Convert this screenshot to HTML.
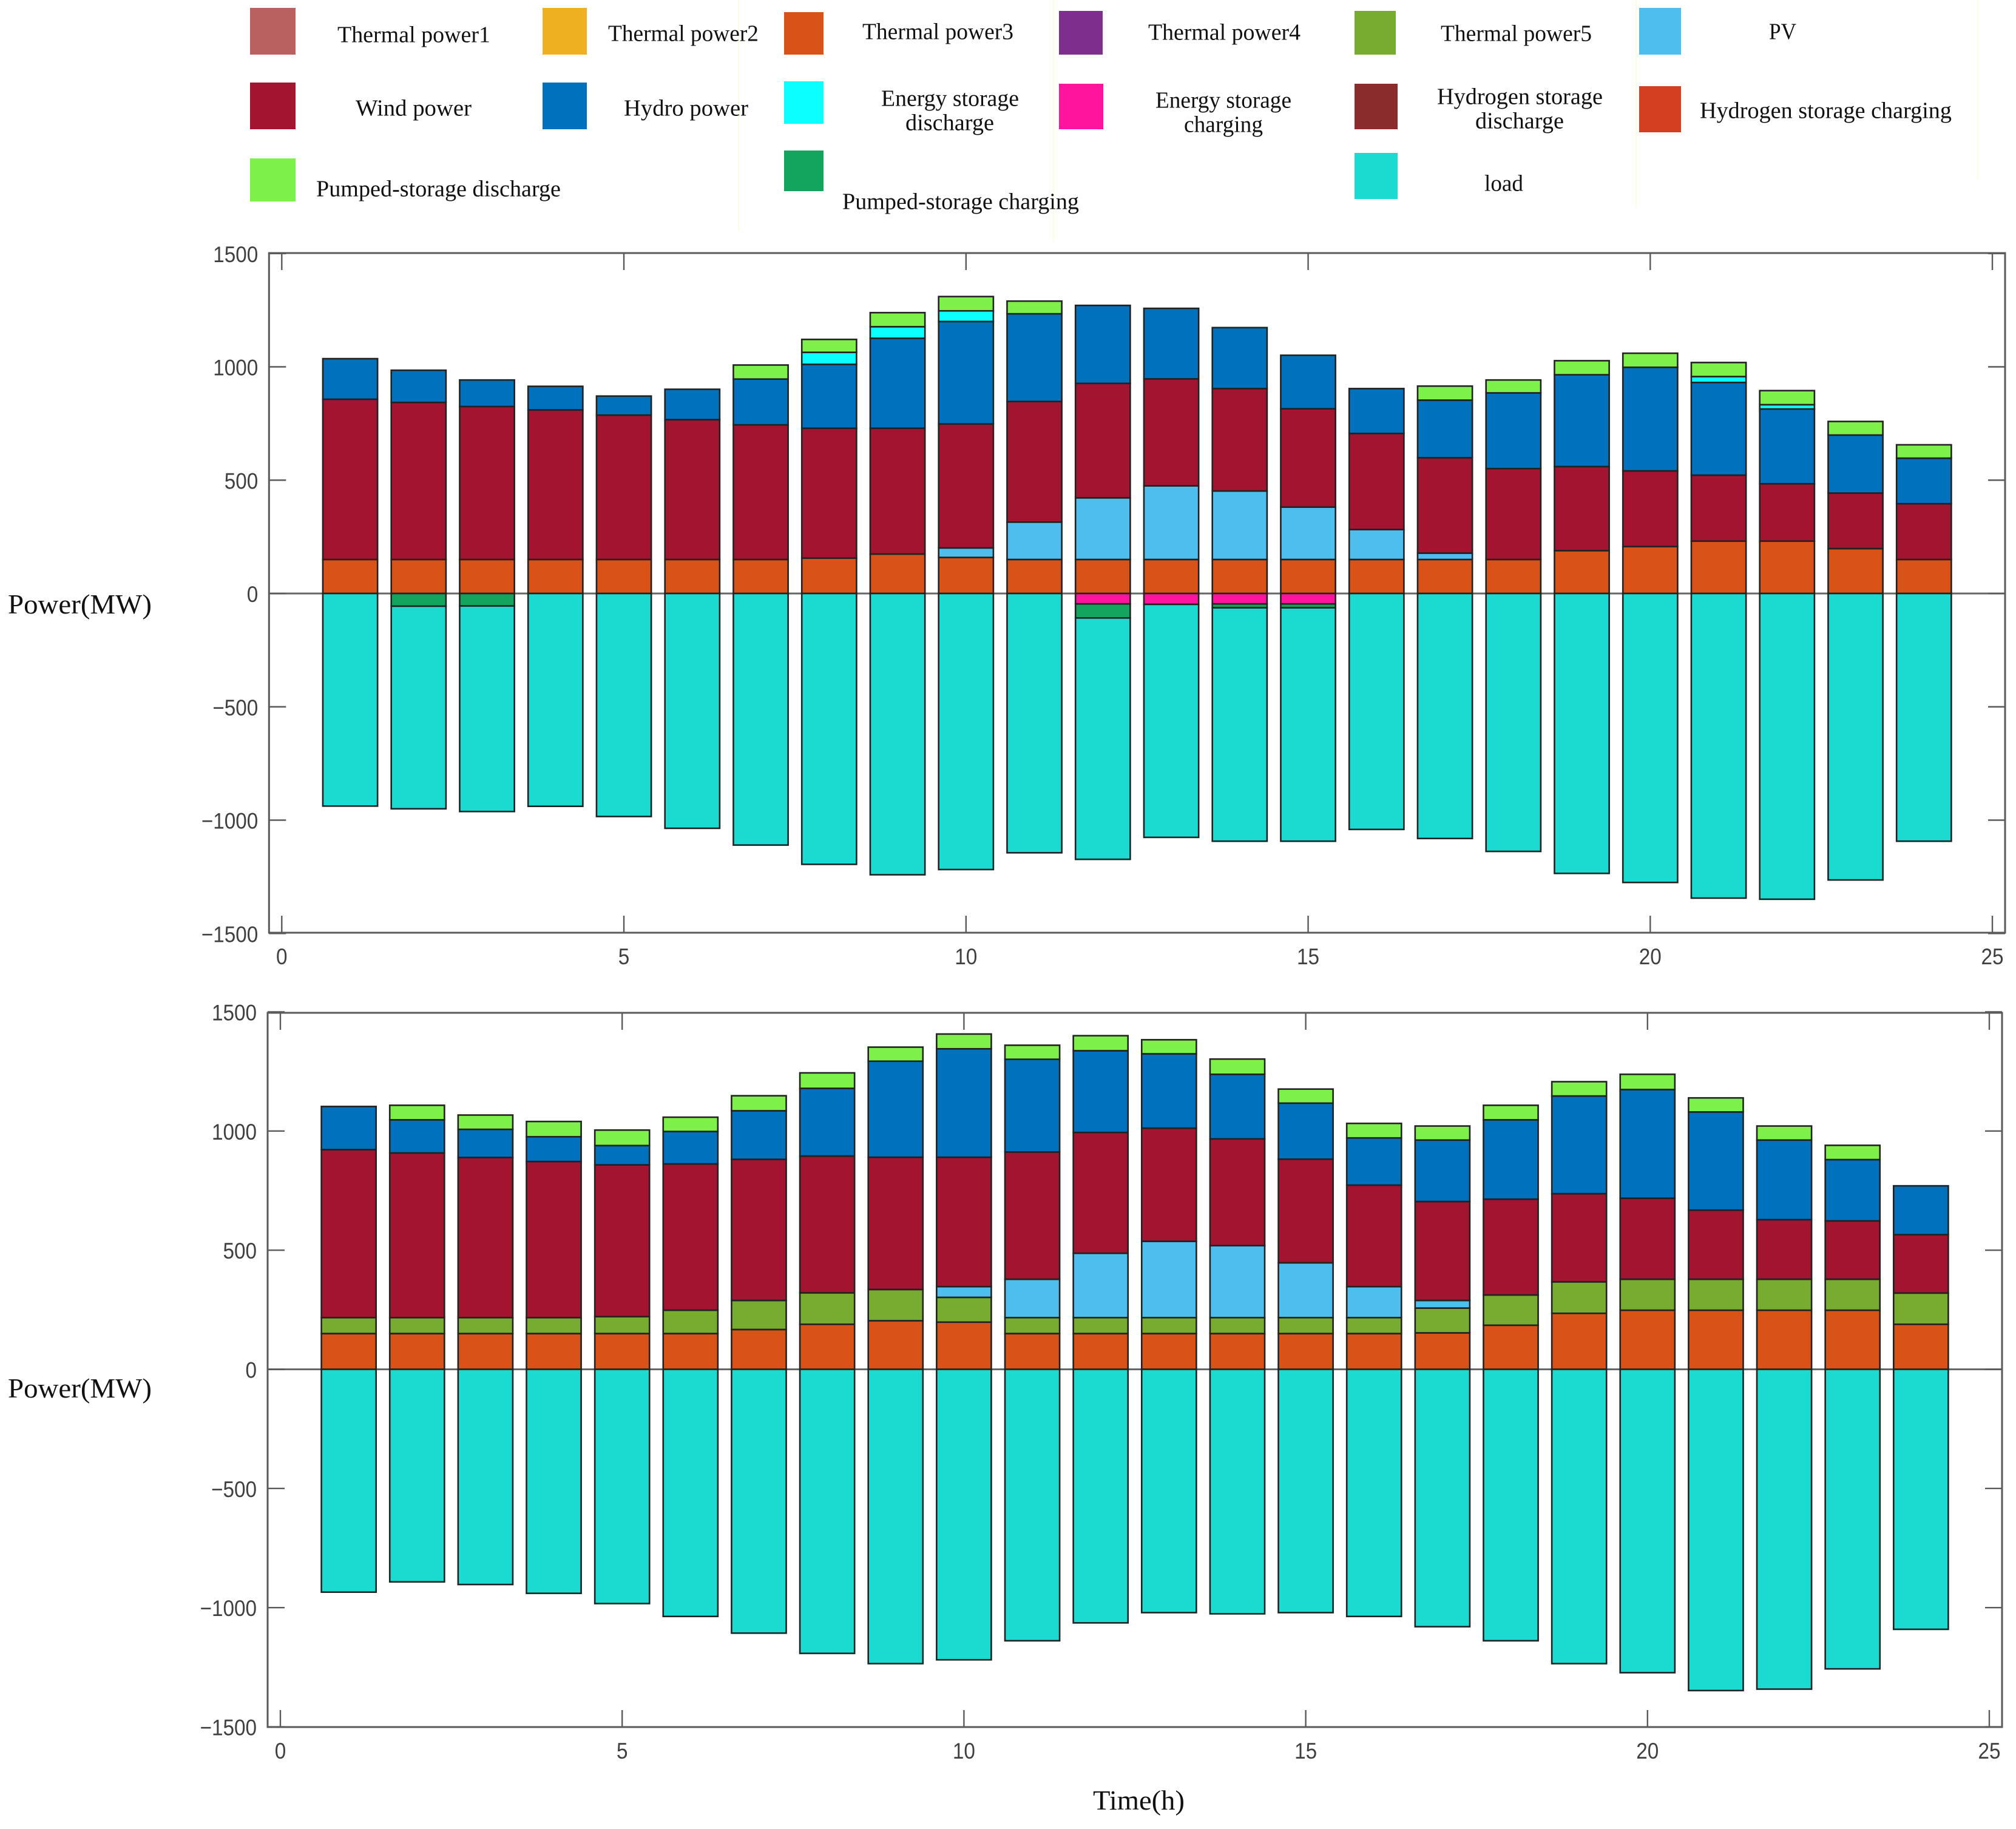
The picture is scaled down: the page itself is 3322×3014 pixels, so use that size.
<!DOCTYPE html>
<html lang="en">
<head>
<meta charset="utf-8">
<title>Power balance stacked bars</title>
<style>
html,body{margin:0;padding:0;background:#fff;width:3322px;height:3014px;overflow:hidden}
svg{display:block}
.lg{font-family:"Liberation Serif",serif;font-size:38px;fill:#111;transform:translateY(1.5px)}
.ax{font-family:"Liberation Serif",serif;font-size:46px;fill:#111}
.tk{font-family:"Liberation Sans",sans-serif;font-size:37px;fill:#404040}
</style>
</head>
<body>
<svg id="figure" xmlns="http://www.w3.org/2000/svg" width="3322" height="3014" viewBox="0 0 3322 3014">
<rect x="0" y="0" width="3322" height="3014" fill="#ffffff"/>
<g stroke="#fdfde6" stroke-width="2">
<line x1="1217" y1="0" x2="1217" y2="382"/><line x1="1736" y1="0" x2="1736" y2="396"/><line x1="2696" y1="0" x2="2696" y2="340"/><line x1="3259" y1="0" x2="3259" y2="295"/>
</g>
<g>
<rect x="412" y="13" width="75" height="77" fill="#B96060"/>
<text class="lg" x="556" y="68" textLength="252" lengthAdjust="spacingAndGlyphs">Thermal power1</text>
<rect x="894" y="13" width="73" height="77" fill="#EEB020"/>
<text class="lg" x="1002" y="66" textLength="248" lengthAdjust="spacingAndGlyphs">Thermal power2</text>
<rect x="1292" y="20" width="65" height="70" fill="#D95319"/>
<text class="lg" x="1421" y="63" textLength="249" lengthAdjust="spacingAndGlyphs">Thermal power3</text>
<rect x="1745" y="18" width="72" height="72" fill="#7E2F8E"/>
<text class="lg" x="1892" y="64" textLength="251" lengthAdjust="spacingAndGlyphs">Thermal power4</text>
<rect x="2232" y="18" width="68" height="72" fill="#77AC30"/>
<text class="lg" x="2374" y="66" textLength="249" lengthAdjust="spacingAndGlyphs">Thermal power5</text>
<rect x="2701" y="13" width="69" height="77" fill="#4DBEEE"/>
<text class="lg" x="2915" y="63" textLength="45" lengthAdjust="spacingAndGlyphs">PV</text>
<rect x="412" y="136" width="75" height="77" fill="#A2142F"/>
<text class="lg" x="586" y="189" textLength="191" lengthAdjust="spacingAndGlyphs">Wind power</text>
<rect x="894" y="136" width="73" height="77" fill="#0072BD"/>
<text class="lg" x="1028" y="189" textLength="205" lengthAdjust="spacingAndGlyphs">Hydro power</text>
<rect x="1292" y="134" width="65" height="70" fill="#0CFFFF"/>
<text class="lg" x="1452" y="173" textLength="227" lengthAdjust="spacingAndGlyphs">Energy storage</text>
<text class="lg" x="1492" y="213" textLength="146" lengthAdjust="spacingAndGlyphs">discharge</text>
<rect x="1745" y="138" width="73" height="75" fill="#FF149E"/>
<text class="lg" x="1904" y="176" textLength="224" lengthAdjust="spacingAndGlyphs">Energy storage</text>
<text class="lg" x="1951" y="216" textLength="130" lengthAdjust="spacingAndGlyphs">charging</text>
<rect x="2232" y="138" width="71" height="75" fill="#8A2C2C"/>
<text class="lg" x="2368" y="170" textLength="273" lengthAdjust="spacingAndGlyphs">Hydrogen storage</text>
<text class="lg" x="2431" y="210" textLength="146" lengthAdjust="spacingAndGlyphs">discharge</text>
<rect x="2701" y="142" width="69" height="76" fill="#D33F20"/>
<text class="lg" x="2801" y="193" textLength="415" lengthAdjust="spacingAndGlyphs">Hydrogen storage charging</text>
<rect x="412" y="261" width="75" height="71" fill="#7EF04A"/>
<text class="lg" x="521" y="322" textLength="403" lengthAdjust="spacingAndGlyphs">Pumped-storage discharge</text>
<rect x="1292" y="248" width="65" height="67" fill="#13A45E"/>
<text class="lg" x="1388" y="343" textLength="390" lengthAdjust="spacingAndGlyphs">Pumped-storage charging</text>
<rect x="2232" y="252" width="71" height="76" fill="#1BDBD0"/>
<text class="lg" x="2446" y="313" textLength="64" lengthAdjust="spacingAndGlyphs">load</text>
</g>
<text class="ax" x="13" y="1011" textLength="237" lengthAdjust="spacingAndGlyphs">Power(MW)</text>
<text class="ax" x="13" y="2303" textLength="237" lengthAdjust="spacingAndGlyphs">Power(MW)</text>
<text class="ax" x="1801" y="2982" textLength="151" lengthAdjust="spacingAndGlyphs">Time(h)</text>
<g id="plots"></g>
</svg>
<script>
const hours = [1,2,3,4,5,6,7,8,9,10,11,12,13,14,15,16,17,18,19,20,21,22,23,24];
const yTickValues = [-1500,-1000,-500,0,500,1000,1500];
const xTickValues = [0,5,10,15,20,25];

/* Top chart, MW per hour */
const thermal3A = [150,150,150,150,150,150,150,156,174,159,150,150,150,150,150,150,150,150,189,207,231,231,198,150];
const thermal5A = [0,0,0,0,0,0,0,0,0,0,0,0,0,0,0,0,0,0,0,0,0,0,0,0];
const pvA       = [0,0,0,0,0,0,0,0,0,42,165,272,325,302,231,132,28,0,0,0,0,0,0,0];
const windA     = [707,693,675,660,637,617,594,573,555,547,532,505,472,452,434,424,421,401,371,334,291,253,245,246];
const hydroA    = [179,142,117,104,84,134,202,282,397,452,387,344,311,269,236,198,254,334,405,457,409,330,256,201];
const esDisA    = [0,0,0,0,0,0,0,53,51,47,0,0,0,0,0,0,0,0,0,0,26,19,0,0];
const pumpDisA  = [0,0,0,0,0,0,62,57,62,63,56,0,0,0,0,0,62,57,62,62,62,62,60,59];
const esChgA    = [0,0,0,0,0,0,0,0,0,0,0,46,48,46,46,0,0,0,0,0,0,0,0,0];
const pumpChgA  = [0,56,55,0,0,0,0,0,0,0,0,62,0,17,17,0,0,0,0,0,0,0,0,0];
const loadA     = [938,894,907,939,984,1036,1110,1195,1241,1218,1144,1065,1028,1030,1030,1041,1081,1138,1235,1275,1344,1349,1264,1093];

/* Bottom chart, MW per hour */
const thermal3B = [150,150,150,150,150,150,167,189,204,198,150,150,150,150,150,150,153,185,235,248,248,248,248,189];
const thermal5B = [67,67,67,67,71,98,122,132,131,104,67,67,67,67,67,67,104,127,132,130,130,130,130,131];
const pvB       = [0,0,0,0,0,0,0,0,0,45,161,270,320,302,230,130,32,0,0,0,0,0,0,0];
const windB     = [705,691,672,655,637,614,592,574,555,543,534,507,475,448,435,426,415,402,370,340,290,250,245,245];
const hydroB    = [181,139,118,104,81,136,204,284,403,455,389,343,312,271,235,198,258,333,410,456,412,334,257,205];
const pumpDisB  = [0,61,60,64,65,60,63,65,59,62,59,63,59,64,59,61,59,61,60,64,59,59,60,0];
const loadB     = [935,892,903,940,983,1037,1107,1192,1235,1219,1139,1064,1021,1026,1021,1037,1080,1139,1235,1273,1348,1342,1257,1091];

const seriesColor = {
  'thermal-power3':'#D95319','thermal-power5':'#77AC30','pv':'#4DBEEE','wind-power':'#A2142F',
  'hydro-power':'#0072BD','energy-storage-discharge':'#0CFFFF','pumped-storage-discharge':'#7EF04A',
  'energy-storage-charging':'#FF149E','pumped-storage-charging':'#13A45E','load':'#1BDBD0'
};

const NS = 'http://www.w3.org/2000/svg';
const plots = document.getElementById('plots');

function shape(parent, tag, attrs) {
  const el = document.createElementNS(NS, tag);
  for (const k in attrs) el.setAttribute(k, attrs[k]);
  parent.appendChild(el);
  return el;
}

function drawChart(prefix, box, upStack, downStack) {
  const xPos = h => box.x0 + h * box.pxPerHour;
  const yPos = v => box.y0 - v * box.pxPerMW;
  const barHalf = 0.4;

  const g = shape(plots, 'g', {});
  
  

  const zero = shape(g, 'line', {x1:box.left, x2:box.right, y1:yPos(0), y2:yPos(0), stroke:'#666', 'stroke-width':3});
  
  

  function segments(stack, sign) {
    hours.forEach((h, i) => {
      let base = 0;
      stack.forEach(([key, values]) => {
        const v = values[i];
        if (!v) return;
        const top = base + v;
        const yA = yPos(sign * base), yB = yPos(sign * top);
        const r = shape(g, 'rect', {
          x: xPos(h - barHalf), width: xPos(h + barHalf) - xPos(h - barHalf),
          y: Math.min(yA, yB), height: Math.abs(yA - yB),
          fill: seriesColor[key], stroke: '#222', 'stroke-width': 2.6
        });
        
        
        base = top;
      });
    });
  }
  segments(upStack, 1);
  segments(downStack, -1);

  const frame = shape(g, 'rect', {x:box.left, y:box.top, width:box.right-box.left, height:box.bottom-box.top, fill:'none', stroke:'#5a5a5a', 'stroke-width':3});
  
  

  const tickLen = 28;
  xTickValues.forEach(t => {
    const x = xPos(t);
    const a = shape(g, 'line', {x1:x, x2:x, y1:box.top, y2:box.top+tickLen, stroke:'#5a5a5a', 'stroke-width':2.4});
    
    
    const b = shape(g, 'line', {x1:x, x2:x, y1:box.bottom, y2:box.bottom-tickLen, stroke:'#5a5a5a', 'stroke-width':2.4});
    
    
    const lab = shape(g, 'text', {class:'tk', 'text-anchor':'middle', transform:'translate(' + x + ',' + (box.bottom + 52) + ') scale(0.9,1)'});
    lab.textContent = String(t);
    
    
  });
  yTickValues.forEach(t => {
    const y = yPos(t);
    const a = shape(g, 'line', {x1:box.left, x2:box.left+tickLen, y1:y, y2:y, stroke:'#5a5a5a', 'stroke-width':2.4});
    
    
    const b = shape(g, 'line', {x1:box.right, x2:box.right-tickLen, y1:y, y2:y, stroke:'#5a5a5a', 'stroke-width':2.4});
    
    
    const lab = shape(g, 'text', {class:'tk', 'text-anchor':'end', transform:'translate(' + (box.left - 18) + ',' + (y + 14) + ') scale(0.9,1)'});
    lab.textContent = String(t).replace('-', '\u2212');
    
    
  });
}

drawChart('top', {x0:464.3, pxPerHour:112.75, y0:978, pxPerMW:0.3735, left:443.3, right:3304, top:417, bottom:1537},
  [['thermal-power3',thermal3A],['thermal-power5',thermal5A],['pv',pvA],['wind-power',windA],['hydro-power',hydroA],['energy-storage-discharge',esDisA],['pumped-storage-discharge',pumpDisA]],
  [['energy-storage-charging',esChgA],['pumped-storage-charging',pumpChgA],['load',loadA]]);

drawChart('bottom', {x0:462, pxPerHour:112.64, y0:2256.5, pxPerMW:0.3927, left:441, right:3299, top:1669, bottom:2846},
  [['thermal-power3',thermal3B],['thermal-power5',thermal5B],['pv',pvB],['wind-power',windB],['hydro-power',hydroB],['pumped-storage-discharge',pumpDisB]],
  [['load',loadB]]);
</script>
</body>
</html>
